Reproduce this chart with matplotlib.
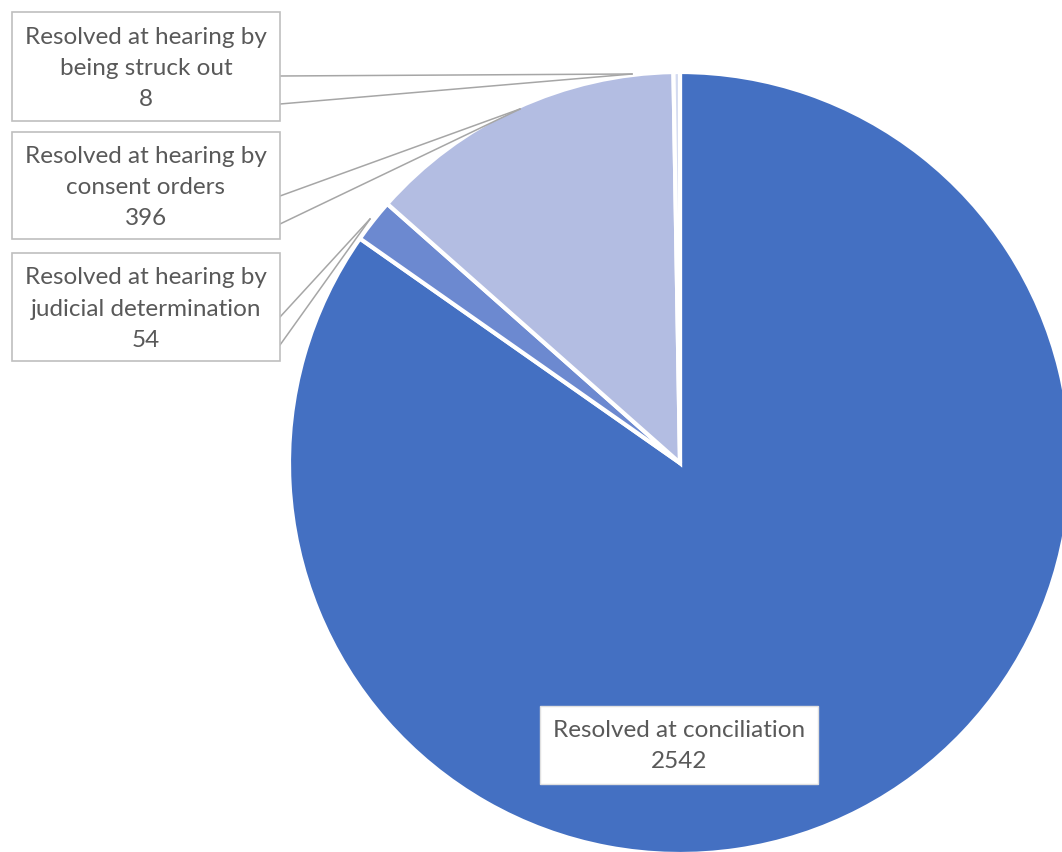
import matplotlib.pyplot as plt
from matplotlib.patches import Rectangle

## Data
labels = ['Resolved at conciliation',
          'Resolved at hearing by\njudicial determination',
          'Resolved at hearing by\nconsent orders',
          'Resolved at hearing by\nbeing struck out']
values = [2542, 54, 396, 8]
colors = ['#4470C2', '#6C89D0', '#B3BDE2', '#D3DAF0']

W, H = 1062, 853
fig = plt.figure(figsize=(W / 100, H / 100), dpi=100)
ax = fig.add_axes([0, 0, 1, 1])

## Pie (pixel coords, y up)
cx, cy, r = 680, H - 464, 391
ax.pie(values, colors=colors, startangle=90, counterclock=False,
       center=(cx, cy), radius=r, frame=True,
       wedgeprops=dict(edgecolor='white', linewidth=3))
ax.set_xlim(0, W)
ax.set_ylim(0, H)
ax.set_aspect('equal')
ax.axis('off')

txt_kw = dict(ha='center', va='center', color='#595959', fontsize=17.5,
              family=['Lato', 'DejaVu Sans'], linespacing=1.6)

## Outside callout boxes: (box left, top, right, bottom), anchor on the pie
callouts = [
    (3, (12, 13, 280, 122), (632, 75)),
    (2, (12, 133, 280, 240), (520, 110)),
    (1, (12, 254, 280, 362), (370, 220)),
]
for idx, (x0, y0, x1, y1), (ax_, ay_) in callouts:
    ax.add_patch(Rectangle((x0, H - y1), x1 - x0, y1 - y0, facecolor='white',
                           edgecolor='#BFBFBF', linewidth=1.2, zorder=3))
    # two leader lines from the box edge converging on the slice
    ax.plot([x1, ax_], [H - (y0 + 64), H - ay_], color='#A6A6A6', lw=1.1, zorder=2)
    ax.plot([x1, ax_], [H - (y0 + 92), H - ay_], color='#A6A6A6', lw=1.1, zorder=2)
    ax.text((x0 + x1) / 2, H - (y0 + y1) / 2 - 1,
            f'{labels[idx]}\n{values[idx]}', zorder=4, **txt_kw)

## Conciliation label inside the pie
bx0, by0, bx1, by1 = 540, 707, 818, 785
ax.add_patch(Rectangle((bx0, H - by1), bx1 - bx0, by1 - by0, facecolor='white',
                       edgecolor='#E0E0E0', linewidth=1, zorder=3))
ax.text((bx0 + bx1) / 2, H - (by0 + by1) / 2, f'{labels[0]}\n{values[0]}',
        zorder=4, **txt_kw)

fig.savefig('out.png', dpi=100, facecolor='white')
